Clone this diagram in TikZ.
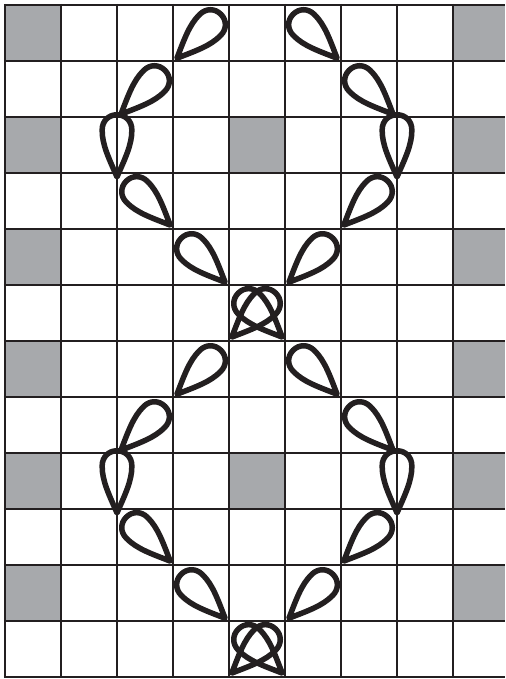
\documentclass[tikz,border=0pt]{standalone}
\usepackage{xcolor}
\definecolor{gridline}{HTML}{231F20}
\definecolor{cellfill}{HTML}{A7A9AC}
\tikzset{
  cell/.style={fill=cellfill, draw=none},
  gridrule/.style={line width=1.45pt, draw=gridline},
  petal/.style={line width=2.8pt, line join=round, draw=gridline}
}
\newcommand{\petalat}[3]{%
  \draw[petal, shift={({#1},{-(#2)})}, rotate=#3]
    (0,0) .. controls (0.32,0.14) and (0.58,0.27) .. (0.84,0.265)
    .. controls (1.0,0.265) and (1.11,0.15) .. (1.11,0)
    .. controls (1.11,-0.15) and (1.0,-0.265) .. (0.84,-0.265)
    .. controls (0.58,-0.27) and (0.32,-0.14) .. cycle;
}
\begin{document}
\begin{tikzpicture}[x=1cm,y=1cm]
\useasboundingbox (-0.0893,0.0893) rectangle (8.9286,-12.0357);
\fill[white] (-0.0893,0.0893) rectangle (8.9286,-12.0357);

% grey cells
\foreach \row in {0,2,4,6,8,10} {
  \fill[cell] (0,-\row) rectangle (1,-\row-1);
  \fill[cell] (8,-\row) rectangle (8.9286,-\row-1);
}
\foreach \row in {2,8}
  \fill[cell] (4,-\row) rectangle (5,-\row-1);

% grid
\foreach \col in {0,...,8}
  \draw[gridrule] (\col,0.02) -- (\col,-12.02);
\foreach \row in {0,...,12}
  \draw[gridrule] (-0.02,-\row) -- (8.9286,-\row);

% petals, left side and its mirror
\foreach \dy in {0,6} {
  \foreach \tipx/\tipy/\ang in {3.07/0.95/45, 2.07/1.95/45, 2/3.07/90, 2.95/3.93/135, 3.93/4.95/135, 4.05/5.93/45} {
    \petalat{\tipx}{\tipy+\dy}{\ang}
    \pgfmathsetmacro{\mirrorang}{180-\ang}
    \petalat{9-\tipx}{\tipy+\dy}{\mirrorang}
  }
}
\end{tikzpicture}
\end{document}
